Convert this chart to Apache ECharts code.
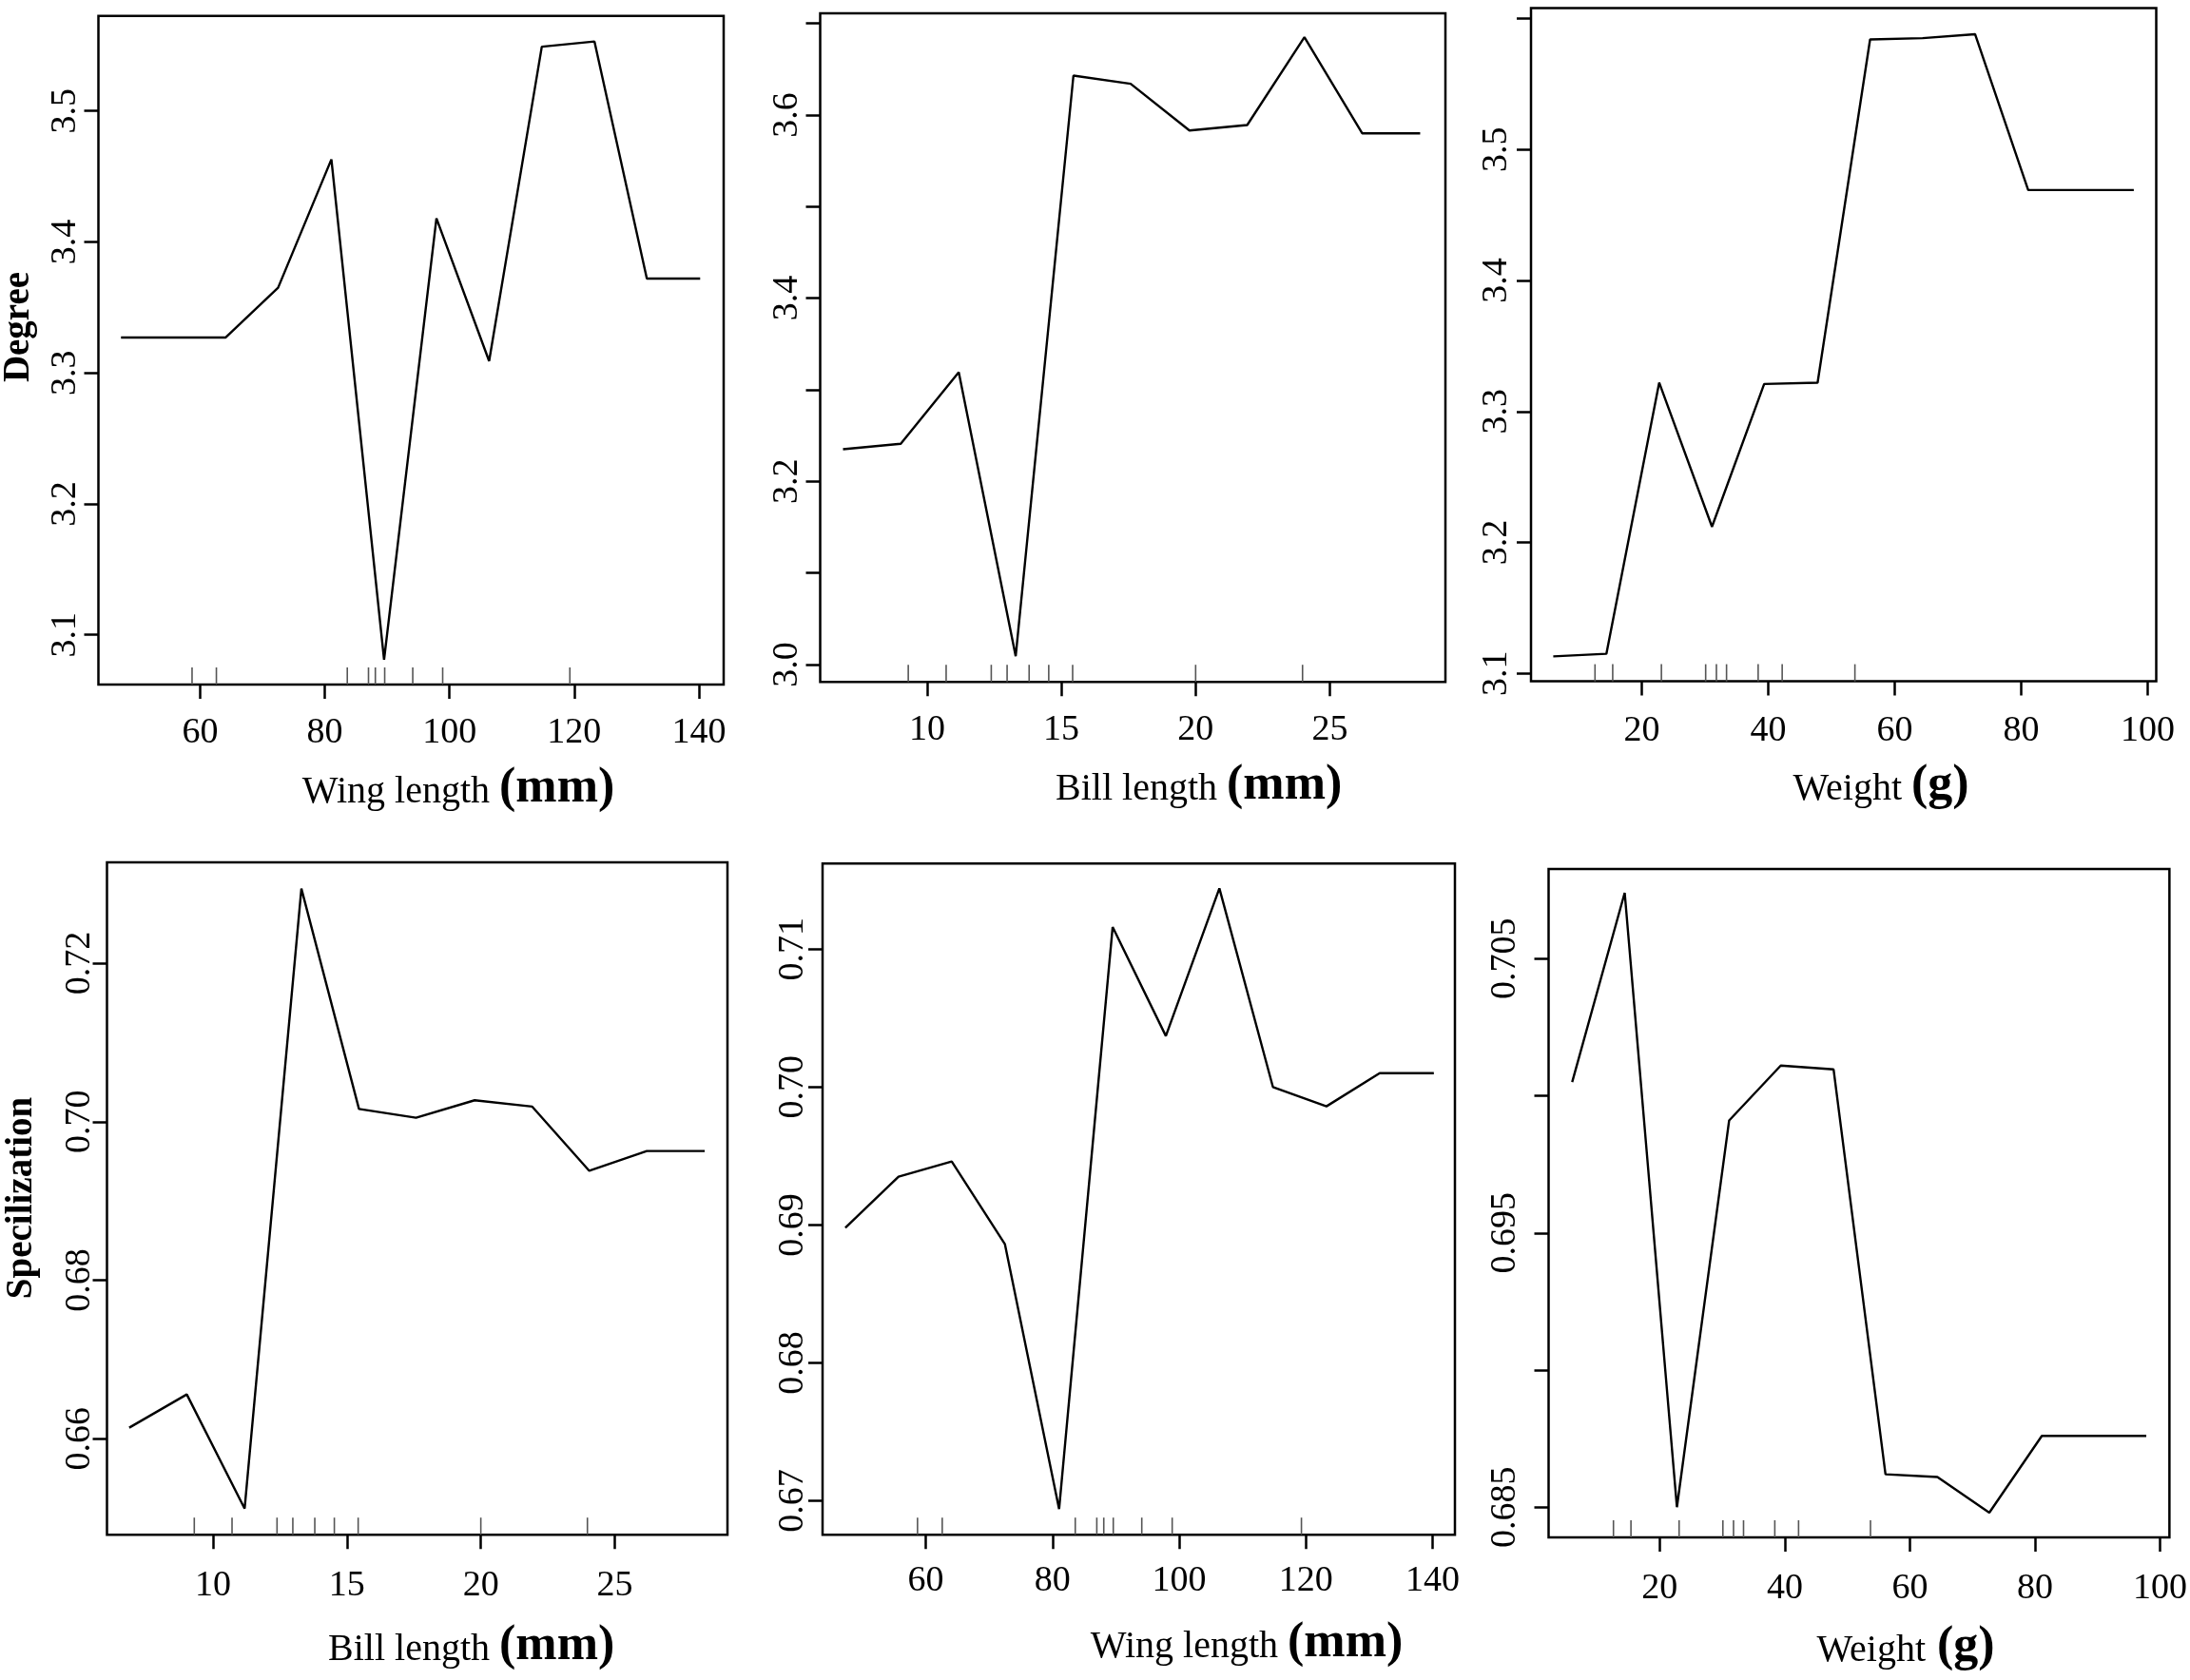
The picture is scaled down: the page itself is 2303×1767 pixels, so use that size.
<!DOCTYPE html>
<html><head><meta charset="utf-8">
<script src="https://cdn.jsdelivr.net/npm/echarts@6/dist/echarts.min.js"></script>
<style>html,body{margin:0;padding:0;background:#fff}#c{width:2303px;height:1767px}</style>
</head><body><div id="c"></div>
<script>
// ---- data ----
const wingX = [47.3, 55.7, 64.1, 72.5, 81.05, 89.5, 97.9, 106.35, 114.8, 123.25, 131.65, 140.2];
const degreeWing = [3.327, 3.327, 3.327, 3.365, 3.463, 3.081, 3.418, 3.309, 3.549, 3.553, 3.372, 3.372];
const specWing = [0.6898, 0.6935, 0.6946, 0.6886, 0.6694, 0.7116, 0.7037, 0.7144, 0.7000, 0.6986, 0.7010, 0.7010];

const billX = [6.87, 9.02, 11.18, 13.3, 15.45, 17.58, 19.77, 21.92, 24.05, 26.2, 28.36];
const degreeBill = [3.235, 3.241, 3.319, 3.009, 3.643, 3.634, 3.583, 3.589, 3.685, 3.580, 3.580];
const specBill = [0.6614, 0.6656, 0.6512, 0.7294, 0.7016, 0.7005, 0.7027, 0.7019, 0.6938, 0.6963, 0.6963];

const weightX = [6.0, 14.4, 22.75, 31.1, 39.35, 47.8, 56.1, 64.4, 72.7, 81.1, 89.4, 97.8];
const degreeWeight = [3.113, 3.115, 3.322, 3.212, 3.321, 3.322, 3.584, 3.585, 3.588, 3.469, 3.469, 3.469];
const specWeight = [0.7005, 0.7074, 0.6850, 0.6991, 0.7011, 0.70096, 0.6862, 0.6861, 0.6848, 0.6876, 0.6876, 0.6876];

const wingRug = [58.7, 62.6, 83.6, 87.0, 88.1, 89.6, 94.1, 98.9, 119.3];
const billRug = [9.3, 10.71, 12.39, 12.98, 13.8, 14.53, 15.42, 20.0, 23.98];
const weightRug = [12.6, 15.4, 23.1, 30.1, 31.8, 33.4, 38.4, 42.2, 53.7];

const wingTicks = [60, 80, 100, 120, 140];
const billTicks = [10, 15, 20, 25];
const weightTicks = [20, 40, 60, 80, 100];

const degreeWingTicks = [3.1, 3.2, 3.3, 3.4, 3.5];
const degreeBillTicks = [3.0, 3.1, 3.2, 3.3, 3.4, 3.5, 3.6, 3.7];
const degreeBillLabels = [3.0, 3.2, 3.4, 3.6];
const degreeWeightTicks = [3.1, 3.2, 3.3, 3.4, 3.5, 3.6];
const degreeWeightLabels = [3.1, 3.2, 3.3, 3.4, 3.5];
const specBillTicks = [0.66, 0.68, 0.70, 0.72];
const specWingTicks = [0.67, 0.68, 0.69, 0.70, 0.71];
const specWeightTicks = [0.685, 0.690, 0.695, 0.700, 0.705];
const specWeightLabels = [0.685, 0.695, 0.705];

const yTitles = ['Degree', 'Specilization'];
const xTitles = [['Wing length', '(mm)'], ['Bill length', '(mm)'], ['Weight', '(g)'],
                 ['Bill length', '(mm)'], ['Wing length', '(mm)'], ['Weight', '(g)']];

// ---- layout ----
const FONT = '"Liberation Serif", "Times New Roman", serif';
// title: [end of plain part, start of bold unit part, baseline y]
const panels = [
  {x: wingX, y: degreeWing, rug: wingRug, xt: wingTicks, yt: degreeWingTicks, yl: degreeWingTicks, dec: 1,
   grid: [103.5, 16.8, 657.5, 703.2], xr: [43.68, 143.97], yr: [3.062, 3.5725], ym: 15, xm: 32, title: [515, 525, 847]},
  {x: billX, y: degreeBill, rug: billRug, xt: billTicks, yt: degreeBillTicks, yl: degreeBillLabels, dec: 1,
   grid: [862.5, 14.0, 657.5, 703.2], xr: [6.02, 29.30], yr: [2.981, 3.711], ym: 15, xm: 32, title: [1280, 1290, 844]},
  {x: weightX, y: degreeWeight, rug: weightRug, xt: weightTicks, yt: degreeWeightTicks, yl: degreeWeightLabels, dec: 1,
   grid: [1610, 8.4, 657.5, 708.2], xr: [2.48, 101.35], yr: [3.094, 3.608], ym: 17, xm: 33, title: [2000, 2010, 844]},
  {x: billX, y: specBill, rug: billRug, xt: billTicks, yt: specBillTicks, yl: specBillTicks, dec: 2,
   grid: [112.5, 907.1, 652.5, 707.1], xr: [6.04, 29.21], yr: [0.6479, 0.7327], ym: 9, xm: 35, title: [515, 525, 1749]},
  {x: wingX, y: specWing, rug: wingRug, xt: wingTicks, yt: specWingTicks, yl: specWingTicks, dec: 2,
   grid: [865, 908.3, 665, 705.9], xr: [43.71, 143.53], yr: [0.66754, 0.7162], ym: 12, xm: 30, title: [1344, 1354, 1746]},
  {x: weightX, y: specWeight, rug: weightRug, xt: weightTicks, yt: specWeightTicks, yl: specWeightLabels, dec: 3,
   grid: [1628.5, 913.9, 656.5, 703.1], xr: [2.23, 101.5], yr: [0.6839, 0.70827], ym: 26, xm: 35, title: [2025, 2037, 1750]}
];

const grids = [], xAxes = [], yAxes = [], series = [], graphics = [];
panels.forEach((p, i) => {
  grids.push({left: p.grid[0], top: p.grid[1], width: p.grid[2], height: p.grid[3],
    show: true, borderColor: '#000', borderWidth: 2.5, backgroundColor: 'transparent', containLabel: false});
  xAxes.push({type: 'value', gridIndex: i, min: p.xr[0], max: p.xr[1],
    axisLine: {show: false}, splitLine: {show: false},
    axisTick: {show: true, customValues: p.xt, length: 15, lineStyle: {color: '#000', width: 2.5}},
    axisLabel: {customValues: p.xt, fontSize: 38, fontFamily: FONT, color: '#000', margin: p.xm}});
  yAxes.push({type: 'value', gridIndex: i, min: p.yr[0], max: p.yr[1],
    axisLine: {show: false}, splitLine: {show: false},
    axisTick: {show: true, customValues: p.yt, length: 15, lineStyle: {color: '#000', width: 2.5}},
    axisLabel: {customValues: p.yl, rotate: 90, fontSize: 38, fontFamily: FONT, color: '#000', margin: p.ym,
      formatter: v => Number(v).toFixed(p.dec)}});
  series.push({type: 'line', xAxisIndex: i, yAxisIndex: i, showSymbol: false, silent: true,
    data: p.x.map((xv, k) => [xv, p.y[k]]),
    lineStyle: {color: '#000', width: 2.4}, itemStyle: {color: '#000'}});
  series.push({type: 'custom', xAxisIndex: i, yAxisIndex: i, silent: true, clip: false,
    data: p.rug.map(v => [v, p.yr[0]]), encode: {x: 0, y: 1},
    renderItem: (params, api) => {
      const pt = api.coord([api.value(0), api.value(1)]);
      return {type: 'line', shape: {x1: pt[0], y1: pt[1], x2: pt[0], y2: pt[1] - 18},
        style: {stroke: '#555', lineWidth: 1.6}};
    }});
  const base = p.title[2];
  graphics.push({type: 'text', x: p.title[0], y: base - 0.34 * 40, silent: true,
    style: {text: xTitles[i][0], font: '40px ' + FONT, fill: '#000', align: 'right', verticalAlign: 'middle'}});
  graphics.push({type: 'text', x: p.title[1], y: base - 0.34 * 52, silent: true,
    style: {text: xTitles[i][1], font: 'bold 52px ' + FONT, fill: '#000', align: 'left', verticalAlign: 'middle'}});
});
graphics.push({type: 'text', x: 20, y: 344, rotation: Math.PI / 2, silent: true,
  style: {text: yTitles[0], font: 'bold 39px ' + FONT, fill: '#000', align: 'center', verticalAlign: 'middle'}});
graphics.push({type: 'text', x: 23, y: 1260, rotation: Math.PI / 2, silent: true,
  style: {text: yTitles[1], font: 'bold 39px ' + FONT, fill: '#000', align: 'center', verticalAlign: 'middle'}});

const chart = echarts.init(document.getElementById('c'));
chart.setOption({animation: false, backgroundColor: '#fff', grid: grids, xAxis: xAxes, yAxis: yAxes, series: series, graphic: graphics});
</script></body></html>
